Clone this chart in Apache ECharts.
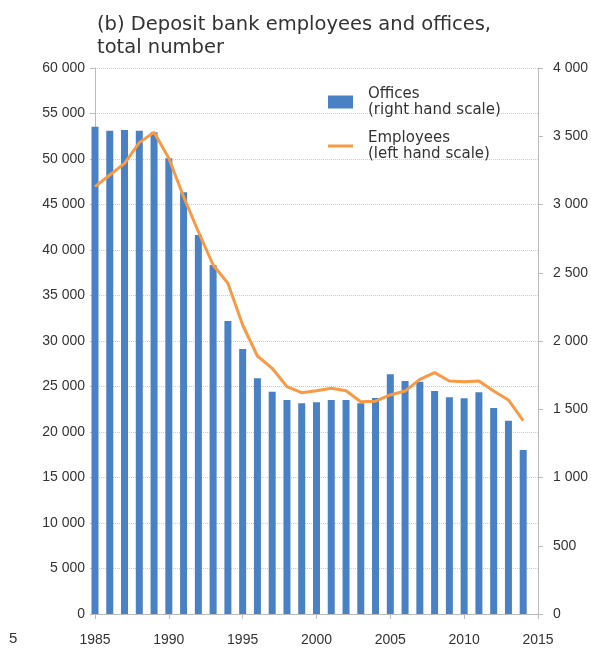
<!DOCTYPE html>
<html lang="en">
<head>
    <meta charset="utf-8">
    <title>Deposit bank employees and offices</title>
    <script src="https://cdn.jsdelivr.net/npm/echarts@6/dist/echarts.min.js"></script>
</head>
<body style="margin:0">
    <div id="main" style="width: 591px;height:650px;"></div>
<script type="text/javascript">
    // years on the x axis (2015 only carries the last tick)
    var years = [];
    for (var y = 1985; y <= 2015; y++) years.push(String(y));

    // offices, right hand scale
    var offices = [3570, 3541, 3546, 3541, 3529, 3338, 3089, 2777, 2557, 2147,
        1941, 1727, 1629, 1568, 1544, 1551, 1568, 1568, 1544, 1582,
        1756, 1707, 1702, 1634, 1587, 1580, 1624, 1509, 1416, 1201];

    // employees, left hand scale
    var employees = [46960, 48240, 49520, 51800, 52930, 50080, 45860, 42010, 38350, 36340,
        31760, 28350, 27000, 24980, 24320, 24540, 24800, 24540, 23330, 23380,
        24070, 24500, 25790, 26520, 25600, 25530, 25600, 24500, 23520, 21240];

    var fmtSpace = function (v) {
        return String(v).replace(/\B(?=(\d{3})+(?!\d))/g, ' ');
    };

    var labelFont = '"Liberation Sans Narrow", "Liberation Sans", sans-serif';

    var myChart = echarts.init(document.getElementById('main'));

    var option = {
        animation: false,
        title: {
            text: '(b) Deposit bank employees and offices,\ntotal number',
            left: 92,
            top: 8,
            textStyle: {
                fontFamily: 'DejaVu Sans',
                fontWeight: 'normal',
                fontSize: 19.5,
                lineHeight: 23,
                color: '#333'
            }
        },
        legend: {
            orient: 'vertical',
            left: 323,
            top: 81,
            itemWidth: 25,
            itemHeight: 13,
            itemGap: 12,
            textStyle: {
                fontFamily: 'DejaVu Sans',
                fontSize: 15,
                lineHeight: 16,
                color: '#333',
                padding: [0, 0, 0, 10]
            },
            data: [
                { name: 'Offices\n(right hand scale)', icon: 'rect' },
                { name: 'Employees\n(left hand scale)', icon: 'path://M0,0L25,0L25,3L0,3Z' }
            ]
        },
        grid: {
            left: 95,
            right: 51,
            top: 68,
            bottom: 36
        },
        xAxis: {
            type: 'category',
            data: years,
            boundaryGap: false,
            axisLine: { lineStyle: { color: '#bbb' } },
            axisTick: { interval: 4, length: 5, lineStyle: { color: '#bbb' } },
            axisLabel: {
                interval: 4,
                margin: 19,
                fontFamily: labelFont,
                fontSize: 14,
                color: '#333'
            }
        },
        yAxis: [
            {
                type: 'value',
                min: 0,
                max: 60000,
                interval: 5000,
                axisLine: { show: true, lineStyle: { color: '#bbb' } },
                axisTick: { show: true, inside: false, length: 5, lineStyle: { color: '#bbb' } },
                splitLine: { lineStyle: { color: '#ccc', type: 'dotted' } },
                axisLabel: {
                    margin: 10,
                    fontFamily: labelFont,
                    fontSize: 14,
                    color: '#333',
                    formatter: fmtSpace
                }
            },
            {
                type: 'value',
                min: 0,
                max: 4000,
                interval: 500,
                position: 'right',
                axisLine: { show: true, lineStyle: { color: '#bbb' } },
                axisTick: { show: true, length: 5, lineStyle: { color: '#bbb' } },
                splitLine: { show: false },
                axisLabel: {
                    margin: 15,
                    fontFamily: labelFont,
                    fontSize: 14,
                    color: '#333',
                    formatter: fmtSpace
                }
            }
        ],
        graphic: [{
            type: 'text',
            left: 9,
            top: 631,
            style: {
                text: '5',
                font: '15px "Liberation Sans Narrow", sans-serif',
                fill: '#333'
            }
        }],
        series: [
            {
                name: 'Offices\n(right hand scale)',
                type: 'bar',
                yAxisIndex: 1,
                barWidth: 7,
                itemStyle: { color: '#4a81c4' },
                data: offices
            },
            {
                name: 'Employees\n(left hand scale)',
                type: 'line',
                yAxisIndex: 0,
                symbol: 'none',
                lineStyle: { color: '#f79a45', width: 3 },
                itemStyle: { color: '#f79a45' },
                data: employees
            }
        ]
    };

    myChart.setOption(option);
</script>
</body>
</html>
